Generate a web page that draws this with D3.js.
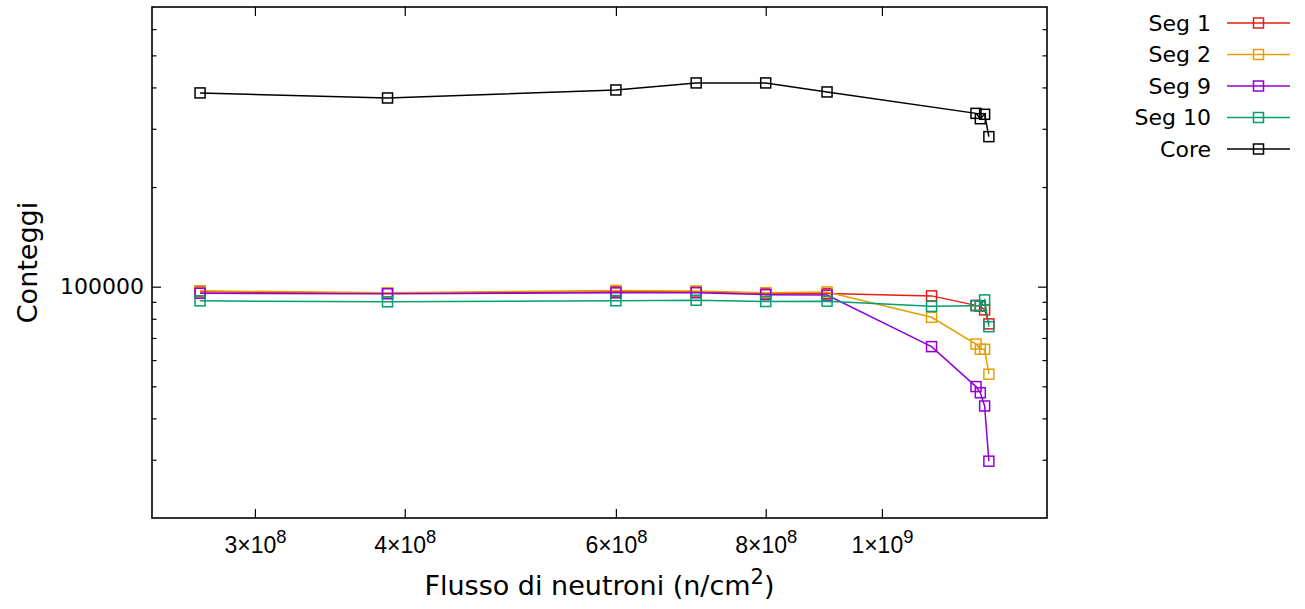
<!DOCTYPE html>
<html>
<head>
<meta charset="utf-8">
<script src="https://cdn.jsdelivr.net/npm/d3@7"></script>
<style>
  html, body { margin: 0; padding: 0; background: #fff; }
  svg { display: block; font-family: "DejaVu Sans", Verdana, sans-serif; }
</style>
</head>
<body>
<svg id="chart" width="1305" height="609"></svg>
<script>
// Neutron fluence points (n/cm^2)
const segFlux  = [2.70e8, 3.87e8, 6.0e8, 7.0e8, 8.0e8, 9.0e8, 1.10e9, 1.198e9, 1.208e9, 1.218e9, 1.228e9];
const coreFlux = [2.70e8, 3.87e8, 6.0e8, 7.0e8, 8.0e8, 9.0e8, 1.198e9, 1.208e9, 1.218e9, 1.228e9];

// Counts per series
const seg1  = [96500, 95500, 96500, 96500, 95500, 95300, 93800, 87800, 87300, 85100, 77200];
const seg2  = [97200, 95800, 97400, 97100, 95900, 96400, 80800, 67100, 64700, 64700, 54400];
const seg9  = [95500, 95200, 95800, 95900, 94600, 94300, 65900, 49900, 47800, 43600, 29700];
const seg10 = [90600, 90000, 90700, 91000, 90200, 90400, 87200, 87600, 87600, 91200, 75700];
const core  = [385000, 371700, 393000, 412700, 412700, 387600, 334000, 321800, 331800, 284000];

const seriesNames  = ["Seg 1", "Seg 2", "Seg 9", "Seg 10", "Core"];
const seriesColors = ["#e51e10", "#e69f00", "#9400d3", "#009e73", "#000000"];

// Axis ticks
const xTickValues    = [3e8, 4e8, 6e8, 8e8, 1e9];
const xTickMantissa  = ["3", "4", "6", "8", "1"];
const xTickExponent  = ["8", "8", "8", "8", "9"];
const yMajorTicks    = [100000];
const yMinorTicks    = [30000, 40000, 50000, 60000, 70000, 80000, 90000,
                        200000, 300000, 400000, 500000, 600000];

const xDomain = [2.462e8, 1.373e9];
const yDomain = [2.0e4, 7.0e5];

const m = { left: 152, right: 1047, top: 7, bottom: 518 };

const svg = d3.select("#chart");
const x = d3.scaleLog().domain(xDomain).range([m.left, m.right]);
const y = d3.scaleLog().domain(yDomain).range([m.bottom, m.top]);

const fs = 22;
const fsx = 23;

// Bottom axis (ticks pointing inward) and mirrored top ticks
const gx = svg.append("g")
  .attr("transform", `translate(0,${m.bottom})`)
  .call(d3.axisBottom(x).tickValues(xTickValues).tickSize(-9).tickSizeOuter(0).tickFormat(""));
gx.select(".domain").remove();
gx.selectAll(".tick line").attr("stroke", "#000").attr("stroke-width", 1.2);
gx.selectAll(".tick").each(function(d, i) {
  const t = d3.select(this).append("text")
    .attr("y", 35)
    .attr("text-anchor", "middle")
    .attr("fill", "#000")
    .style("font-size", fsx + "px");
  t.append("tspan").text(xTickMantissa[i] + "×10");
  t.append("tspan").attr("dy", -10).style("font-size", (fsx * 0.8) + "px").text(xTickExponent[i]);
});

const gxTop = svg.append("g")
  .attr("transform", `translate(0,${m.top})`)
  .call(d3.axisTop(x).tickValues(xTickValues).tickSize(-9).tickSizeOuter(0).tickFormat(""));
gxTop.select(".domain").remove();
gxTop.selectAll(".tick line").attr("stroke", "#000").attr("stroke-width", 1.2);

// Left axis: one labelled major tick plus minor ticks, mirrored on the right
function yAxes(axisFn, xpos, withLabels) {
  const gMaj = svg.append("g").attr("transform", `translate(${xpos},0)`)
    .call(axisFn(y).tickValues(yMajorTicks).tickSize(-9).tickSizeOuter(0)
      .tickFormat(withLabels ? d3.format("d") : ""));
  gMaj.select(".domain").remove();
  gMaj.selectAll(".tick line").attr("stroke", "#000").attr("stroke-width", 1.2);
  gMaj.selectAll(".tick text")
    .attr("x", -8).attr("fill", "#000")
    .style("font-size", fs + "px").attr("font-family", "DejaVu Sans, sans-serif");
  const gMin = svg.append("g").attr("transform", `translate(${xpos},0)`)
    .call(axisFn(y).tickValues(yMinorTicks).tickSize(-4.5).tickSizeOuter(0).tickFormat(""));
  gMin.select(".domain").remove();
  gMin.selectAll(".tick line").attr("stroke", "#000").attr("stroke-width", 1.2);
}
yAxes(d3.axisLeft, m.left, true);
yAxes(d3.axisRight, m.right, false);

// Plot border
svg.append("rect")
  .attr("x", m.left).attr("y", m.top)
  .attr("width", m.right - m.left).attr("height", m.bottom - m.top)
  .attr("fill", "none").attr("stroke", "#000").attr("stroke-width", 1.6);

// Series
const series = [
  { xs: segFlux,  ys: seg1 },
  { xs: segFlux,  ys: seg2 },
  { xs: segFlux,  ys: seg9 },
  { xs: segFlux,  ys: seg10 },
  { xs: coreFlux, ys: core }
];

const line = d3.line().x(d => x(d[0])).y(d => y(d[1]));
const sq = 10;

series.forEach((s, i) => {
  const pts = s.xs.map((v, k) => [v, s.ys[k]]);
  const g = svg.append("g");
  g.append("path").datum(pts)
    .attr("d", line)
    .attr("fill", "none")
    .attr("stroke", seriesColors[i])
    .attr("stroke-width", 1.5);
  g.selectAll("rect").data(pts).join("rect")
    .attr("x", d => x(d[0]) - sq / 2)
    .attr("y", d => y(d[1]) - sq / 2)
    .attr("width", sq).attr("height", sq)
    .attr("fill", "none")
    .attr("stroke", seriesColors[i])
    .attr("stroke-width", 1.5);
});

// Legend
const legend = svg.append("g");
seriesNames.forEach((name, i) => {
  const ly = 23 + i * 31.5;
  legend.append("text")
    .attr("x", 1211).attr("y", ly)
    .attr("dy", "0.35em")
    .attr("text-anchor", "end")
    .style("font-size", fs + "px")
    .attr("fill", "#000")
    .text(name);
  legend.append("line")
    .attr("x1", 1227).attr("x2", 1290)
    .attr("y1", ly).attr("y2", ly)
    .attr("stroke", seriesColors[i]).attr("stroke-width", 1.5);
  legend.append("rect")
    .attr("x", 1258.5 - sq / 2).attr("y", ly - sq / 2)
    .attr("width", sq).attr("height", sq)
    .attr("fill", "none")
    .attr("stroke", seriesColors[i]).attr("stroke-width", 1.5);
});

// Axis titles
svg.append("text")
  .attr("x", (m.left + m.right) / 2).attr("y", 595)
  .attr("text-anchor", "middle")
  .style("font-size", "27px")
  .attr("fill", "#000")
  .call(t => {
    t.append("tspan").text("Flusso di neutroni (n/cm");
    t.append("tspan").attr("dy", -11).style("font-size", "21px").text("2");
    t.append("tspan").attr("dy", 11).text(")");
  });

svg.append("text")
  .attr("transform", `translate(37,${(m.top + m.bottom) / 2}) rotate(-90)`)
  .attr("text-anchor", "middle")
  .style("font-size", "27px")
  .attr("fill", "#000")
  .text("Conteggi");
</script>
</body>
</html>
